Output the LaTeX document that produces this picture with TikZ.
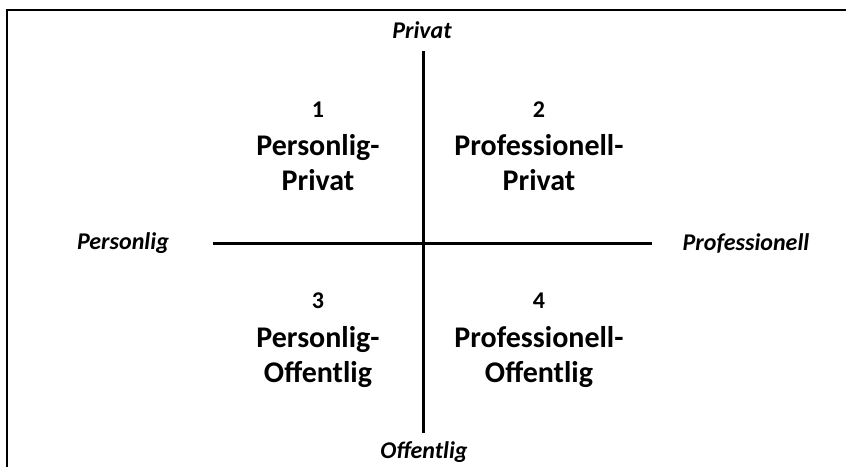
\documentclass[tikz,border=0pt]{standalone}
\usepackage{fontspec}
\setmainfont{Carlito}
\usetikzlibrary{positioning}
\tikzstyle{every node}=[inner sep=0pt]
\tikzset{axislabel/.style={font=\fontsize{24}{29}\selectfont\bfseries\itshape},
	quadnum/.style={font=\fontsize{24}{29}\selectfont\bfseries},
	quadname/.style={font=\fontsize{30}{35}\selectfont\bfseries, align=center}}

\begin{document}
\begin{tikzpicture}[x=1pt, y=-1pt]
	\useasboundingbox (0,0) rectangle (846,467);
	% cadre
	\draw[line width=2.5pt] (7,467) -- (7,10) -- (846,10);
	
	\coordinate (top) at (423,51);
	\coordinate (bot) at (423,433);
	\coordinate (lft) at (213,243);
	\coordinate (rgt) at (652,243);
	
	% axes
	\draw[line width=3pt] (top) -- (bot);
	\draw[line width=3pt] (lft) -- (rgt);
	
	\node[axislabel] (privat) at (422,30) {Privat};
	\node[axislabel] (offentlig) at (424,452) {Offentlig};
	\node[axislabel] (personlig) at (123,243) {Personlig};
	\node[axislabel] (professionell) at (746,243) {Professionell};
	
	% kvadranter
	\node[quadnum] (n1) at (318,110) {1};
	\node[quadnum] (n2) at (539,110) {2};
	\node[quadnum] (n3) at (318,301) {3};
	\node[quadnum] (n4) at (539,301) {4};
	\node[quadname, below=16pt of n1] (q1) {Personlig-\\Privat};
	\node[quadname, below=16pt of n2] (q2) {Professionell-\\Privat};
	\node[quadname, below=17pt of n3] (q3) {Personlig-\\Offentlig};
	\node[quadname, below=17pt of n4] (q4) {Professionell-\\Offentlig};
\end{tikzpicture}
\end{document}
